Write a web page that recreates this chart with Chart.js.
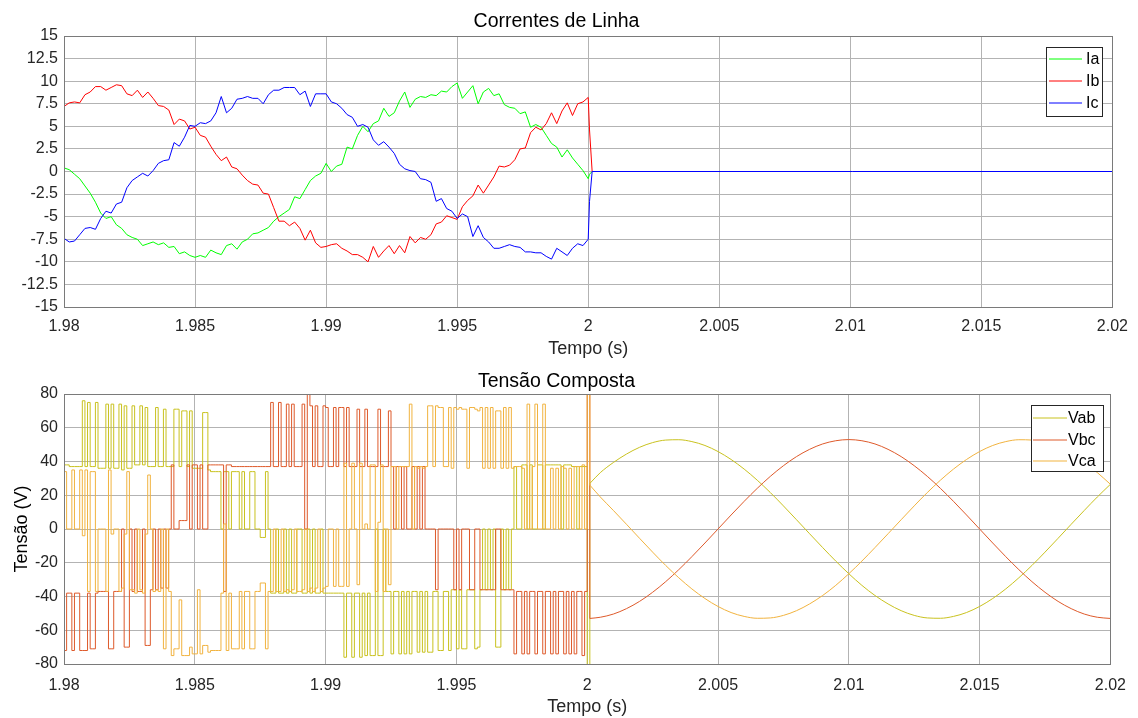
<!DOCTYPE html>
<html>
<head>
<meta charset="utf-8">
<script src="https://cdn.jsdelivr.net/npm/chart.js@4.4.1/dist/chart.umd.min.js"></script>
<style>
body{margin:0;background:#fff;width:1138px;height:718px;overflow:hidden;position:relative}
canvas{position:absolute;left:0}
#top{top:0}
#bot{top:360px}
</style>
</head>
<body>
<canvas id="top" width="1138" height="360"></canvas>
<canvas id="bot" width="1138" height="358"></canvas>
<script>

// ---- data ----

const xTicks = [1.98,1.985,1.99,1.995,2,2.005,2.01,2.015,2.02];

// line currents, one sample every 0.2 ms from 1.98 s to 2.0 s
const curStep = 0.0002;
const iaVals = [
0.4,0.2,-0.3,-0.8,-1.6,-2.4,-3.4,-4.6,-5.2,-5.0,
-5.9,-6.3,-7.0,-7.3,-7.5,-8.2,-8.0,-7.8,-8.1,-7.9,
-8.4,-8.3,-9.1,-8.9,-9.3,-9.5,-9.3,-9.5,-8.7,-9.0,
-9.2,-8.2,-8.0,-8.6,-7.8,-7.5,-6.9,-6.8,-6.5,-6.2,
-5.5,-5.0,-4.6,-4.2,-2.8,-3.0,-2.0,-1.0,-0.5,-0.2,
0.9,0.0,0.6,0.8,2.7,2.5,4.0,5.0,4.4,5.3,
5.6,7.0,6.1,6.5,7.8,8.8,7.1,8.0,8.3,8.2,
8.5,8.4,8.9,8.8,9.4,9.8,8.1,8.8,9.5,7.5,
8.8,9.2,8.4,8.6,7.4,7.1,7.0,6.4,6.6,4.9,
5.2,4.9,4.0,3.1,2.7,1.6,2.4,1.5,0.8,0.1,
-0.8];
const ibVals = [
7.2,7.6,7.7,7.6,8.5,8.8,9.4,9.4,9.0,9.3,
9.6,9.5,8.6,8.4,9.0,8.2,8.8,8.1,7.3,7.2,
6.8,5.2,5.8,5.6,4.7,4.9,4.0,3.8,2.8,1.9,
1.2,1.6,0.5,0.3,-0.4,-1.0,-1.4,-1.5,-2.4,-2.5,
-4.0,-5.5,-5.5,-6.0,-5.6,-6.3,-7.6,-6.5,-7.9,-8.4,
-8.3,-8.1,-8.0,-8.5,-8.8,-9.2,-9.2,-9.5,-10.0,-8.3,
-9.5,-8.8,-8.2,-9.1,-8.2,-9.0,-7.2,-7.9,-7.3,-7.5,
-7.0,-5.8,-5.6,-4.9,-5.1,-5.3,-3.9,-3.2,-2.7,-1.5,
-2.4,-1.5,-0.6,0.6,0.5,0.7,1.3,2.5,2.6,4.3,
4.9,4.6,5.3,6.5,5.3,6.7,7.6,6.2,7.5,7.7,
8.2];
const icVals = [
-7.4,-7.8,-7.7,-7.0,-6.3,-6.2,-6.4,-5.2,-4.4,-4.6,
-3.6,-3.4,-1.8,-1.0,-0.6,-0.2,-0.5,0.1,0.9,1.2,
1.3,3.2,2.8,3.8,5.1,5.0,5.4,5.3,5.6,6.5,
8.3,6.5,7.0,8.0,8.1,8.3,8.1,8.1,7.5,8.5,
9.0,9.0,9.3,9.3,9.3,8.5,8.9,7.2,8.6,8.6,
8.6,7.7,7.5,7.0,6.3,6.0,5.0,5.2,4.9,3.5,
2.9,3.3,2.7,2.0,0.8,0.3,0.1,0.0,-0.8,-0.9,
-1.2,-3.3,-3.0,-4.1,-4.4,-5.2,-4.7,-5.0,-7.2,-6.0,
-7.3,-7.8,-8.5,-8.5,-8.3,-8.1,-8.3,-8.4,-8.9,-8.9,
-9.0,-9.0,-9.4,-9.7,-8.5,-8.9,-9.3,-8.5,-8.0,-8.2,
-7.5];
// switch-off: all three fall to zero, the flat zero line that follows shows Ic on top
const tailTime = [2.00005, 2.00015];
const iaTail = [-0.3, 0];
const ibTail = [4.6, 0];
const icTail = [-3.3, 0];
const zeroTime = [2.02];
const icZero = [0];

// line voltages, PWM part: one level every 0.1 ms from 1.98 s, last one at 2.0001 s
const pwmStep = 0.0001;
const vabPwm = [
38,38,37,37,37,37,37,76,37,75,
37,37,75,36,36,36,74,36,74,36,
36,74,35,73,36,36,73,38,38,73,
38,72,37,37,37,72,37,37,71,37,
37,37,71,71,37,70,70,37,70,36,
36,36,36,69,69,35,34,34,34,34,
0,34,34,0,34,34,34,0,34,0,
0,34,34,0,0,-5,-5,34,0,-38,
-38,0,-38,-38,0,-38,0,-38,-38,0,
0,-38,-38,0,-38,0,-38,-38,0,-38,
-38,-38,-38,-38,-38,-38,-38,-76,-38,-38,
-76,-38,-38,-76,-38,-75,-38,-75,-75,0,
-75,-75,0,-37,-37,-74,-37,-37,-74,-37,
-74,-37,-74,-37,-37,-73,-37,-73,-37,-73,
-73,-37,-37,-72,-72,-37,-37,-72,-36,-36,
-71,-36,-71,-71,-36,-36,-36,-71,-70,-36,
0,-36,0,-36,0,-70,-70,0,-36,0,
-36,0,37,0,0,38,38,0,38,0,
0,38,38,0,38,38,38,38,38,38,
0,38,38,38,37,37,0,37,37,37,
-82,27];
const vbcPwm = [
-72,-38,-38,-72,-38,-38,-72,-72,-72,-38,
-71,-71,-38,-37,-37,-37,-37,-71,-71,-37,
-37,-37,0,-70,-70,0,-37,0,-37,-37,
0,-69,-69,-36,0,-36,0,-35,0,-35,
0,38,0,0,5,5,5,38,0,38,
38,0,38,0,0,38,38,38,38,38,
38,-37,38,38,37,37,37,37,37,37,
37,37,37,37,37,37,37,37,37,75,
37,37,75,37,37,74,37,74,37,37,
37,74,0,80,73,37,73,37,37,73,
72,37,37,72,37,72,72,37,72,37,
37,37,71,37,37,71,37,37,37,37,
71,37,37,37,70,37,0,37,37,0,
37,0,0,37,0,37,0,37,0,0,
0,0,-36,0,0,0,0,0,0,-36,
0,-36,0,0,0,-36,-36,0,0,-36,
-36,-36,-36,-36,-36,0,0,-36,-36,-36,
-36,-36,-74,-37,-37,-74,-37,-74,-37,-37,
-74,-37,-37,-74,-37,-37,-74,-37,-74,-37,
-37,-74,-37,-74,-37,-74,-37,-37,-75,-37,
85,-53];
const vcaPwm = [
34,0,0,35,0,0,35,-4,35,-37,
34,34,-37,0,0,0,-37,35,-3,0,
0,-37,-35,-3,34,-36,-36,-38,0,-36,
-38,-3,32,0,-37,-36,-37,0,-71,0,
-37,-75,-71,-71,-42,-75,-75,-75,-70,-74,
-74,-36,-74,-69,-69,-73,-72,-72,-72,-72,
-38,3,-72,-38,-71,-71,-71,-37,-71,-37,
-37,-71,-71,-37,-37,-32,-32,-71,-37,-37,
0,-37,-37,0,-37,-36,-37,-36,0,-37,
-37,-36,0,-37,-35,-37,-35,0,-37,-35,
-34,0,0,-34,0,-34,-34,39,-34,0,
39,0,-33,39,0,3,0,38,38,-37,
4,38,-37,0,-33,37,37,0,37,37,
37,37,74,0,37,36,37,36,37,73,
73,37,73,72,72,37,37,72,36,72,
71,72,71,71,36,72,72,71,70,72,
36,72,36,72,36,70,70,36,72,36,
72,36,37,37,37,36,0,74,0,37,
74,0,0,74,0,0,36,0,36,0,
37,36,0,36,0,37,37,0,38,0,
85,26];

// line voltages after 2 s: first sample at 2.0001 s, then every 0.5 ms
const vabSine = [27,33.4,39.4,44.4,48.4,51.2,52.7,52.9,51.8,49.5,45.9,41.2,35.5,28.9,21.6,13.7,5.5,-2.8,-11.0,-19.0,
-26.5,-33.4,-39.4,-44.4,-48.4,-51.2,-52.7,-52.9,-51.8,-49.5,-45.9,-41.2,-35.5,-28.9,-21.6,-13.7,-5.5,2.8,11.0,19.0,26.5];
const vbcSine = [-53,-52.3,-50.4,-47.2,-42.9,-37.5,-31.2,-24.1,-16.4,-8.3,0,8.3,16.4,24.1,31.2,37.5,42.9,47.2,50.4,52.3,
53,52.3,50.4,47.2,42.9,37.5,31.2,24.1,16.4,8.3,0,-8.3,-16.4,-24.1,-31.2,-37.5,-42.9,-47.2,-50.4,-52.3,-53];
const vcaSine = [26,19.0,11.0,2.8,-5.5,-13.7,-21.6,-28.9,-35.5,-41.2,-45.9,-49.5,-51.8,-52.9,-52.7,-51.2,-48.4,-44.4,-39.4,-33.4,
-26.5,-19.0,-11.0,-2.8,5.5,13.7,21.6,28.9,35.5,41.2,45.9,49.5,51.8,52.9,52.7,51.2,48.4,44.4,39.4,33.4,26.5];


// ---- time bases ----

const curTime = iaVals.map((_, j) => 1.98 + j * curStep).concat(tailTime);
const icTime = curTime.concat(zeroTime);
const pwmTime = vabPwm.map((_, i) => i < 201 ? 1.98 + i * pwmStep : 2.0001);
const sineTime = vabSine.map((_, k) => k === 0 ? 2.0001 : 2 + k * 0.0005);

const pts = (xs, ys) => ys.map((y, k) => ({x: xs[k], y: y}));


// ---- look ----

const FONT = '"Liberation Sans", Arial, Helvetica, sans-serif';
Chart.defaults.font.family = FONT;
Chart.defaults.color = '#262626';

const GRID = '#b3b3b3';
const cAb = '#c9c21f', cBc = '#de5a2b', cCa = '#f1b33f';

// axes box + MATLAB-like legend inside the plot
const boxLegend = {
  id: 'boxLegend',
  afterDraw(chart, args, o) {
    const ctx = chart.ctx, a = chart.chartArea;
    ctx.save();
    ctx.lineWidth = 1;
    ctx.strokeStyle = '#7a7a7a';
    ctx.strokeRect(Math.round(a.left) + 0.5, Math.round(a.top) + 0.5,
                   Math.round(a.right - a.left), Math.round(a.bottom - a.top));

    ctx.fillStyle = '#fff';
    ctx.fillRect(o.x, o.y, o.w, o.h);
    ctx.strokeStyle = '#262626';
    ctx.strokeRect(o.x + 0.5, o.y + 0.5, o.w, o.h);
    ctx.font = '16px ' + FONT;
    ctx.textBaseline = 'middle';
    chart.data.datasets.filter(d => d.label).forEach((d, k) => {
      const y = Math.round(o.y + o.first + k * o.gap);
      ctx.strokeStyle = d.borderColor;
      ctx.beginPath();
      ctx.moveTo(o.x + o.l0, y);
      ctx.lineTo(o.x + o.l1, y);
      ctx.stroke();
      ctx.fillStyle = '#000';
      ctx.fillText(d.label, o.x + o.tx, y + 0.5);
    });
    ctx.restore();
  }
};

function xScale(tickPad, h) {
  return {
    type: 'linear', min: 1.98, max: 2.02,
    afterBuildTicks: s => { s.ticks = xTicks.map(v => ({value: v})); },
    afterFit: s => { s.height = h; },
    ticks: {font: {size: 16}, padding: tickPad, maxRotation: 0,
            callback: v => String(+v.toFixed(3))},
    grid: {color: GRID, drawTicks: false},
    border: {display: false},
    title: {display: true, text: 'Tempo (s)', color: '#262626',
            font: {size: 18}, padding: {top: 0, bottom: 0}}
  };
}

function lineSet(label, xs, ys, color, order, extra) {
  return Object.assign({
    label: label, data: pts(xs, ys), borderColor: color, borderWidth: 1,
    pointRadius: 0, fill: false, tension: 0, order: order
  }, extra || {});
}


// ---- Correntes de Linha ----

new Chart(document.getElementById('top').getContext('2d'), {
  type: 'line',
  data: {
    datasets: [
      lineSet('Ia', curTime, iaVals.concat(iaTail), '#00ff00', 2),
      lineSet('Ib', curTime, ibVals.concat(ibTail), '#ff0000', 1),
      lineSet('Ic', icTime, icVals.concat(icTail, icZero), '#0000ff', 0)
    ]
  },
  options: {
    responsive: false, animation: false, devicePixelRatio: 1, events: [],
    layout: {padding: {left: 0, right: 25, top: 0, bottom: 0}},
    scales: {
      x: xScale(10, 53),
      y: {
        min: -15, max: 15,
        afterFit: s => { s.width = 64; },
        ticks: {stepSize: 2.5, font: {size: 16}, padding: 6, callback: v => String(v)},
        grid: {color: GRID, drawTicks: false},
        border: {display: false}
      }
    },
    plugins: {
      legend: {display: false},
      tooltip: {enabled: false},
      title: {display: true, text: 'Correntes de Linha', color: '#000',
              font: {size: 19.5, weight: 'normal'}, padding: {top: 10, bottom: 2.6}},
      boxLegend: {x: 1046, y: 47, w: 56, h: 69, first: 12, gap: 22, l0: 3, l1: 36, tx: 40}
    }
  },
  plugins: [boxLegend]
});


// ---- Tensão Composta ----

new Chart(document.getElementById('bot').getContext('2d'), {
  type: 'line',
  data: {
    datasets: [
      lineSet('Vab', pwmTime, vabPwm, cAb, 5, {stepped: true}),
      lineSet('Vbc', pwmTime, vbcPwm, cBc, 4, {stepped: true}),
      lineSet('Vca', pwmTime, vcaPwm, cCa, 3, {stepped: true}),
      lineSet('', sineTime, vabSine, cAb, 2, {cubicInterpolationMode: 'monotone'}),
      lineSet('', sineTime, vbcSine, cBc, 1, {cubicInterpolationMode: 'monotone'}),
      lineSet('', sineTime, vcaSine, cCa, 0, {cubicInterpolationMode: 'monotone'})
    ]
  },
  options: {
    responsive: false, animation: false, devicePixelRatio: 1, events: [],
    layout: {padding: {left: 0, right: 25, top: 0, bottom: 0}},
    scales: {
      x: xScale(12, 54),
      y: {
        min: -80, max: 80,
        afterFit: s => { s.width = 64; },
        ticks: {stepSize: 20, font: {size: 16}, padding: 6, callback: v => String(v)},
        grid: {color: GRID, drawTicks: false},
        border: {display: false},
        title: {display: true, text: 'Tensão (V)', color: '#000',
                font: {size: 18}, padding: {top: 11, bottom: 0}}
      }
    },
    plugins: {
      legend: {display: false},
      tooltip: {enabled: false},
      title: {display: true, text: 'Tensão Composta', color: '#000',
              font: {size: 19.5, weight: 'normal'}, padding: {top: 10, bottom: 0.6}},
      boxLegend: {x: 1031, y: 45, w: 72, h: 66, first: 13, gap: 21.5, l0: 2, l1: 36, tx: 37}
    }
  },
  plugins: [boxLegend]
});
</script>
</body>
</html>
